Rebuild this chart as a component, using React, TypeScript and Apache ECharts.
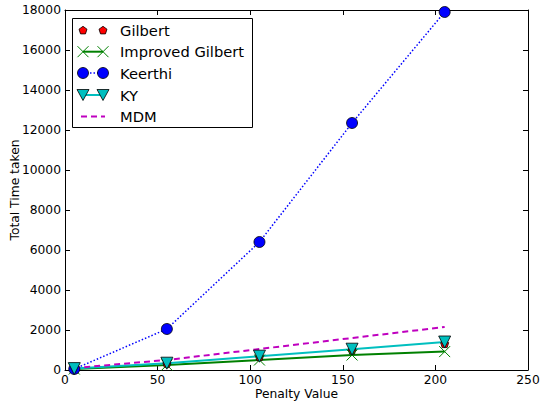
import React, { useEffect, useRef } from "react";
import * as echarts from "echarts";

const penalty = [5, 55, 105, 155, 205];
const gilbert = [60, 320, 660, 1000, 1320];
const improvedGilbert = [50, 250, 500, 750, 920];
const keerthi = [50, 2050, 6400, 12350, 17900];
const ky = [70, 340, 690, 1040, 1400];
const mdm = [100, 500, 1050, 1600, 2150];

const xTicks = [0, 50, 100, 150, 200, 250];
const yTicks = [0, 2000, 4000, 6000, 8000, 10000, 12000, 14000, 16000, 18000];

const FONT = "DejaVu Sans";
const RED = "#ff0000";
const GREEN = "#008000";
const BLUE = "#0000ff";
const CYAN = "#00bfbf";
const MAGENTA = "#bf00bf";

const PENTAGON = "path://M5,0L10,3.6L8.1,9.5L1.9,9.5L0,3.6Z";
const TRI_DOWN = "path://M0,0L10,0L5,9Z";
const XMARK = "path://M0,0L10,10M0,10L10,0";

function pairs(ys: number[]) {
  return penalty.map((x, i) => [x, ys[i]]);
}

function legendGraphic() {
  const x1 = 83;
  const x2 = 103;
  const rows = [30.5, 51.7, 73, 95, 116.5];
  const names = ["Gilbert", "Improved Gilbert", "Keerthi", "KY", "MDM"];
  const els: any[] = [
    {
      type: "rect",
      shape: { x: 72.5, y: 18.5, width: 180, height: 109 },
      style: { fill: "#fff", stroke: "#000", lineWidth: 1 },
      z: 100,
    },
  ];
  const pent = (cx: number, cy: number) => {
    const r = 4.2;
    const pts: number[][] = [];
    for (let k = 0; k < 5; k++) {
      const a = -Math.PI / 2 + (k * 2 * Math.PI) / 5;
      pts.push([cx + r * Math.cos(a), cy + r * Math.sin(a)]);
    }
    return {
      type: "polygon",
      shape: { points: pts },
      style: { fill: RED, stroke: "#000", lineWidth: 0.8 },
      z: 102,
    };
  };
  els.push(pent(x1, rows[0]), pent(x2, rows[0]));
  els.push({
    type: "line",
    shape: { x1, y1: rows[1], x2, y2: rows[1] },
    style: { stroke: GREEN, lineWidth: 2 },
    z: 101,
  });
  [x1, x2].forEach((cx) => {
    const s = 5.5;
    els.push({
      type: "line",
      shape: { x1: cx - s, y1: rows[1] - s, x2: cx + s, y2: rows[1] + s },
      style: { stroke: GREEN, lineWidth: 1 },
      z: 102,
    });
    els.push({
      type: "line",
      shape: { x1: cx - s, y1: rows[1] + s, x2: cx + s, y2: rows[1] - s },
      style: { stroke: GREEN, lineWidth: 1 },
      z: 102,
    });
  });
  els.push({
    type: "line",
    shape: { x1, y1: rows[2], x2, y2: rows[2] },
    style: { stroke: BLUE, lineWidth: 1.5, lineDash: [1.5, 2] },
    z: 101,
  });
  [x1, x2].forEach((cx) =>
    els.push({
      type: "circle",
      shape: { cx, cy: rows[2], r: 5.5 },
      style: { fill: BLUE, stroke: "#000", lineWidth: 0.8 },
      z: 102,
    })
  );
  els.push({
    type: "line",
    shape: { x1, y1: rows[3], x2, y2: rows[3] },
    style: { stroke: CYAN, lineWidth: 2 },
    z: 101,
  });
  [x1, x2].forEach((cx) =>
    els.push({
      type: "polygon",
      shape: {
        points: [
          [cx - 6, rows[3] - 5.5],
          [cx + 6, rows[3] - 5.5],
          [cx, rows[3] + 5.5],
        ],
      },
      style: { fill: CYAN, stroke: "#000", lineWidth: 0.8 },
      z: 102,
    })
  );
  els.push({
    type: "line",
    shape: { x1: 81, y1: rows[4], x2: 105, y2: rows[4] },
    style: { stroke: MAGENTA, lineWidth: 2, lineDash: [6, 4] },
    z: 101,
  });
  names.forEach((n, i) =>
    els.push({
      type: "text",
      x: 120,
      y: rows[i],
      style: {
        text: n,
        font: `14.7px '${FONT}'`,
        fill: "#000",
        verticalAlign: "middle",
      },
      z: 102,
    })
  );
  return els;
}

export default function App() {
  const ref = useRef<HTMLDivElement>(null);
  useEffect(() => {
    document.body.style.margin = "0";
    if (!ref.current) return;
    const chart = echarts.init(ref.current, undefined, { renderer: "svg" });
    const axisCommon = {
      axisLine: { show: true, onZero: false, lineStyle: { color: "#000", width: 1 } },
      axisTick: { show: true, inside: true, length: 5, lineStyle: { color: "#000" } },
      splitLine: { show: false },
    };
    const labelStyle = {
      color: "#000",
      fontFamily: FONT,
      fontSize: 12.3,
      formatter: (v: number) => String(v),
    };
    chart.setOption({
      animation: false,
      textStyle: { fontFamily: FONT },
      grid: {
        left: 65,
        right: 16,
        top: 10,
        bottom: 36,
        containLabel: false,
        outerBoundsMode: "none",
      },
      xAxis: [
        {
          type: "value",
          min: xTicks[0],
          max: xTicks[xTicks.length - 1],
          interval: 50,
          position: "bottom",
          name: "Penalty Value",
          nameLocation: "middle",
          nameGap: 18,
          nameMoveOverlap: false,
          nameTextStyle: { color: "#000", fontFamily: FONT, fontSize: 12.3 },
          axisLabel: { ...labelStyle, margin: 4 },
          ...axisCommon,
        },
        {
          type: "value",
          min: xTicks[0],
          max: xTicks[xTicks.length - 1],
          interval: 50,
          position: "top",
          axisLabel: { show: false },
          ...axisCommon,
        },
      ],
      yAxis: [
        {
          type: "value",
          min: yTicks[0],
          max: yTicks[yTicks.length - 1],
          interval: 2000,
          position: "left",
          name: "Total Time taken",
          nameLocation: "middle",
          nameGap: 44,
          nameMoveOverlap: false,
          nameTextStyle: { color: "#000", fontFamily: FONT, fontSize: 12.3 },
          axisLabel: { ...labelStyle, margin: 4 },
          ...axisCommon,
        },
        {
          type: "value",
          min: yTicks[0],
          max: yTicks[yTicks.length - 1],
          interval: 2000,
          position: "right",
          axisLabel: { show: false },
          ...axisCommon,
        },
      ],
      series: [
        {
          name: "Gilbert",
          type: "line",
          data: pairs(gilbert),
          symbol: PENTAGON,
          symbolSize: 8,
          lineStyle: { width: 0, opacity: 0 },
          itemStyle: { color: RED, borderColor: "#000", borderWidth: 0.8 },
        },
        {
          name: "Improved Gilbert",
          type: "line",
          data: pairs(improvedGilbert),
          symbol: XMARK,
          symbolSize: 11,
          lineStyle: { color: GREEN, width: 2 },
          itemStyle: { color: GREEN, borderColor: GREEN, borderWidth: 1 },
        },
        {
          name: "Keerthi",
          type: "line",
          data: pairs(keerthi),
          symbol: "circle",
          symbolSize: 11,
          lineStyle: { color: BLUE, width: 1.5, type: [1.5, 2] },
          itemStyle: { color: BLUE, borderColor: "#000", borderWidth: 0.8 },
        },
        {
          name: "KY",
          type: "line",
          data: pairs(ky),
          symbol: TRI_DOWN,
          symbolSize: 12,
          lineStyle: { color: CYAN, width: 2 },
          itemStyle: { color: CYAN, borderColor: "#000", borderWidth: 0.8 },
        },
        {
          name: "MDM",
          type: "line",
          data: pairs(mdm),
          symbol: "none",
          showSymbol: false,
          lineStyle: { color: MAGENTA, width: 2, type: [6, 4] },
          itemStyle: { color: MAGENTA },
        },
      ],
      graphic: legendGraphic(),
    });
    return () => chart.dispose();
  }, []);
  return (
    <div
      ref={ref}
      style={{ width: 544, height: 406, position: "absolute", left: 0, top: 0, background: "#fff" }}
    />
  );
}
